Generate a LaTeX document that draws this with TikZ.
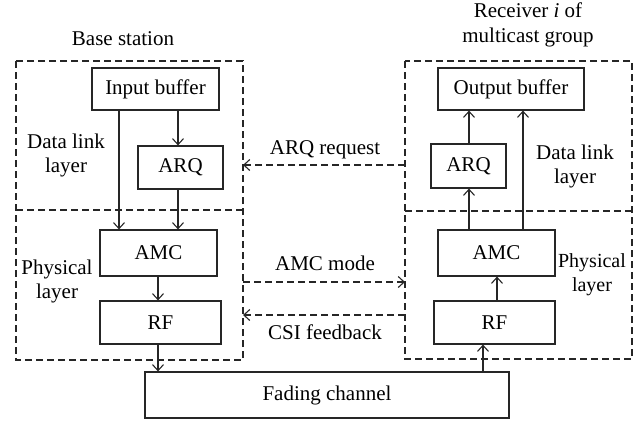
\documentclass[tikz,border=0pt]{standalone}
\usepackage{fontspec}
\setmainfont{Liberation Serif}
\usetikzlibrary{arrows.meta}
\begin{document}
\begin{tikzpicture}[x=1pt,y=-1pt,
  font=\fontsize{21}{24}\selectfont,
  blk/.style={draw=black!85,line width=1.2pt,inner sep=0pt,minimum width=#1},
  blk/.default=100pt,
  lbl/.style={inner sep=0pt,align=center},
  arr/.style={draw=black!85,line width=1.2pt,-{Straight Barb[length=6pt,width=11pt,line width=1.1pt]}},
  darr/.style={arr,dash pattern=on 7pt off 4pt},
  layer/.style={draw=black!85,line width=1.3pt,dash pattern=on 7pt off 4pt}]
\useasboundingbox (0,0) rectangle (641,421);
% layer boxes
\draw[layer] (16,61) rectangle (243,360);
\draw[layer] (16,210) -- (243,210);
\draw[layer] (405,61) rectangle (632,359);
\draw[layer] (405,211) -- (632,211);
% blocks
\node[blk=127pt,minimum height=42pt] (inbuf) at (155.5,89) {Input buffer};
\node[blk=85pt,minimum height=43pt] (arqL) at (180.5,167.5) {ARQ};
\node[blk=117pt,minimum height=46pt] (amcL) at (158.5,253) {AMC};
\node[blk=121pt,minimum height=43pt] (rfL) at (160.5,322.5) {RF};
\node[blk=364pt,minimum height=46pt] (fade) at (327,395) {Fading channel};
\node[blk=146pt,minimum height=42pt] (outbuf) at (511,89) {Output buffer};
\node[blk=75pt,minimum height=44pt] (arqR) at (468.5,166) {ARQ};
\node[blk=117pt,minimum height=46pt] (amcR) at (496.5,253) {AMC};
\node[blk=121pt,minimum height=43pt] (rfR) at (494.5,322.5) {RF};
% columns for connectors
\coordinate (c119) at (119,0);
\coordinate (c178) at (178,0);
\coordinate (c158) at (158,0);
\coordinate (c483) at (483,0);
\coordinate (c497) at (497,0);
\coordinate (c469) at (469,0);
\coordinate (c523) at (523,0);
% solid connectors
\draw[arr] (inbuf.south -| c178) -- (arqL.north -| c178);
\draw[arr] (inbuf.south -| c119) -- (amcL.north -| c119);
\draw[arr] (arqL.south -| c178) -- (amcL.north -| c178);
\draw[arr] (amcL.south -| c158) -- (rfL.north -| c158);
\draw[arr] (rfL.south -| c158) -- (fade.north -| c158);
\draw[arr] (fade.north -| c483) -- (rfR.south -| c483);
\draw[arr] (rfR.north -| c497) -- (amcR.south -| c497);
\draw[arr] (amcR.north -| c469) -- (arqR.south -| c469);
\draw[arr] (arqR.north -| c469) -- (outbuf.south -| c469);
\draw[arr] (amcR.north -| c523) -- (outbuf.south -| c523);
% dashed signalling arrows
\coordinate (arqReqR) at (405,165);
\coordinate (arqReqL) at (243,165);
\coordinate (amcModeL) at (243,282);
\coordinate (amcModeR) at (405,282);
\coordinate (csiR) at (405,315);
\coordinate (csiL) at (243,315);
\draw[darr] (arqReqR) -- (arqReqL);
\draw[darr] (amcModeL) -- (amcModeR);
\draw[darr] (csiR) -- (csiL);
% labels
\node[lbl] (lARQ) at (325,150) {ARQ request};
\node[lbl] (lAMC) at (325,263) {AMC mode};
\node[lbl] (lCSI) at (325,332) {CSI feedback};
\node[lbl] (dlL) at (66,155) {Data link\\layer};
\node[lbl] (phL) at (57,281) {Physical\\layer};
\node[lbl] (dlR) at (575,166) {Data link\\layer};
\node[lbl,font=\fontsize{20}{24}\selectfont] (phR) at (592,275) {Physical\\layer};
\node[lbl] (bs) at (123,39) {Base station};
\node[lbl,font=\fontsize{21}{25}\selectfont] (rx) at (528,25) {Receiver \textit{i} of\\multicast group};
\end{tikzpicture}
\end{document}
